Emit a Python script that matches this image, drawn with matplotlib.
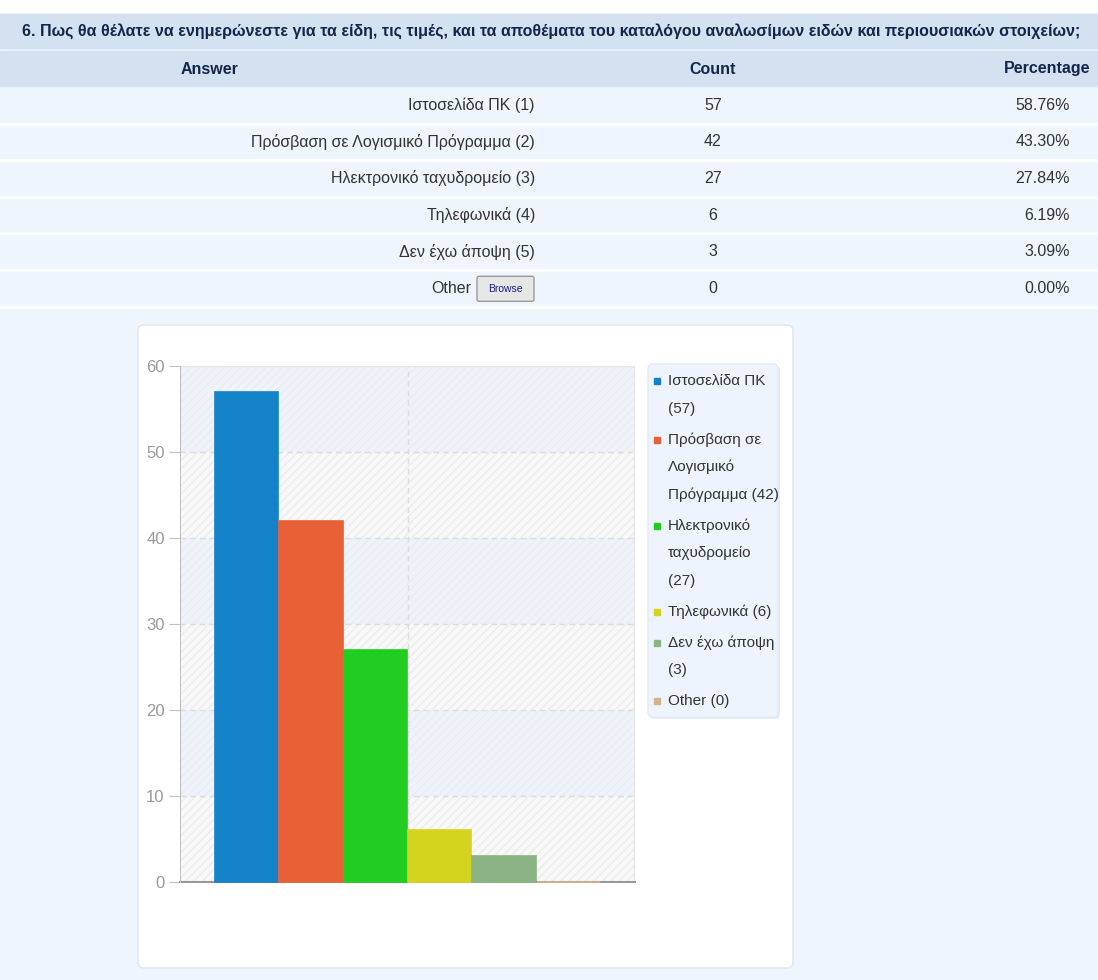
import textwrap
import matplotlib
matplotlib.use("Agg")
import matplotlib.pyplot as plt
from matplotlib.patches import Rectangle, FancyBboxPatch

plt.rcParams['font.family'] = ['Liberation Sans', 'DejaVu Sans']

title = "6. Πως θα θέλατε να ενημερώνεστε για τα είδη, τις τιμές, και τα αποθέματα του καταλόγου αναλωσίμων ειδών και περιουσιακών στοιχείων;"
answers = ["Ιστοσελίδα ΠΚ", "Πρόσβαση σε Λογισμικό Πρόγραμμα", "Ηλεκτρονικό ταχυδρομείο",
           "Τηλεφωνικά", "Δεν έχω άποψη", "Other"]
counts = [57, 42, 27, 6, 3, 0]
percentages = [58.76, 43.30, 27.84, 6.19, 3.09, 0.00]
bar_colors = ["#1482c8", "#e86035", "#22cd22", "#d4d41e", "#8bb383", "#d2b48c"]

W, H = 1098, 980
fig = plt.figure(figsize=(W / 100, H / 100), dpi=100)
fig.patch.set_facecolor("#eef5fd")

# page layer in pixel coordinates
bg = fig.add_axes([0, 0, 1, 1])
bg.set_xlim(0, W)
bg.set_ylim(H, 0)
bg.axis("off")

bg.add_patch(Rectangle((0, 0), W, 12, color="white", zorder=0))
bg.add_patch(Rectangle((0, 14), W, 34, color="#d3e1f1", zorder=1))
t = bg.text(22, 31, title, fontsize=11.5, fontweight="bold", color="#13254a", va="center", ha="left")

# shrink the title until it fits the bar
renderer = fig.canvas.get_renderer()
width = t.get_window_extent(renderer).width
if width > 1066:
    t.set_fontsize(11.5 * 1066 / width)

bg.add_patch(Rectangle((0, 51), W, 35, color="#d3e1f1", zorder=1))
bg.text(210, 69, "Answer", fontsize=11.5, fontweight="bold", color="#13254a", ha="center", va="center")
bg.text(713, 69, "Count", fontsize=11.5, fontweight="bold", color="#13254a", ha="center", va="center")
bg.text(1090, 69, "Percentage", fontsize=11.5, fontweight="bold", color="#13254a", ha="right", va="center")

row_top, row_h = 88, 36.6
for i, (a, c, p) in enumerate(zip(answers, counts, percentages)):
    y0 = row_top + i * row_h
    bg.add_patch(Rectangle((0, y0), W, row_h - 2, color="#eef5fd", zorder=1))
    bg.plot([0, W], [y0 + row_h - 1, y0 + row_h - 1], color="white", lw=2, zorder=2)
    yc = y0 + row_h / 2 - 1
    if a == "Other":
        bg.text(471, yc, a, fontsize=11.5, color="#333333", ha="right", va="center")
        bg.add_patch(FancyBboxPatch((477, yc - 12), 57, 25, boxstyle="round,pad=0,rounding_size=2",
                                    facecolor="#e6e6e6", edgecolor="#999999", lw=1, zorder=3))
        bg.text(505.5, yc + 1, "Browse", fontsize=7.5, color="#1a1a8c", ha="center", va="center", zorder=4)
    else:
        bg.text(535, yc, f"{a} ({i + 1})", fontsize=11.5, color="#333333", ha="right", va="center")
    bg.text(713, yc, f"{c}", fontsize=11.5, color="#333333", ha="center", va="center")
    bg.text(1070, yc, f"{p:.2f}%", fontsize=11.5, color="#333333", ha="right", va="center")

# chart panel
bg.add_patch(FancyBboxPatch((138, 325), 655, 643, boxstyle="round,pad=0,rounding_size=6",
                            facecolor="white", edgecolor="#dde5ee", lw=1, zorder=1))

ax = fig.add_axes([180 / W, 1 - 882 / H, (635 - 180) / W, (882 - 366) / H])
ax.set_xlim(-1.03, 6.03)
ax.set_ylim(0, 60)
ax.set_facecolor("none")

# alternating bands behind the bars
for k in range(6):
    band = "#eef2fa" if k % 2 == 1 else "#f8f8f8"
    ax.axhspan(k * 10, (k + 1) * 10, color=band, zorder=0, lw=0)
    ax.axhspan(k * 10, (k + 1) * 10, facecolor="none", edgecolor="#ececf0", hatch="////", lw=0, zorder=0.5)
for v in range(10, 60, 10):
    ax.axhline(v, color="#dcdcdc", ls=(0, (4, 3)), lw=1, zorder=1)
ax.axhline(60, color="#e4e4e4", lw=1, zorder=1)
ax.axvline(2.5, color="#dcdcdc", ls=(0, (4, 3)), lw=1, zorder=1)
ax.axvline(6.03, color="#e4e4e4", lw=1.5, zorder=1)

x = list(range(len(counts)))
ax.bar(x, counts, width=0.985, color=bar_colors, edgecolor=bar_colors, lw=1.2, zorder=3, clip_on=False)

for s in ["top", "right"]:
    ax.spines[s].set_visible(False)
ax.spines["left"].set_color("#c0c0c0")
ax.spines["bottom"].set_color("#999999")
ax.spines["bottom"].set_linewidth(1.5)
ax.spines["bottom"].set_zorder(2)
ax.set_xticks([])
ax.set_yticks(range(0, 61, 10))
ax.tick_params(axis="y", colors="#c0c0c0", length=8, labelcolor="#999999", labelsize=12, pad=3)

# legend box drawn by hand so the marker sits on the first line of each entry
bg.add_patch(FancyBboxPatch((650, 366), 130, 353, boxstyle="round,pad=0,rounding_size=5",
                            facecolor="#e6ebf1", edgecolor="none", zorder=2))
bg.add_patch(FancyBboxPatch((648, 364), 130, 353, boxstyle="round,pad=0,rounding_size=5",
                            facecolor="#edf4fd", edgecolor="#e2eaf4", lw=1, zorder=3))
ly = 381
for a, c, col in zip(answers, counts, bar_colors):
    lines = textwrap.wrap(f"{a} ({c})", 14)
    bg.add_patch(Rectangle((654, ly - 3), 6, 6, color=col, zorder=4))
    for k, line in enumerate(lines):
        bg.text(668, ly + k * 27.5, line, fontsize=11, color="#333333", ha="left", va="center", zorder=4)
    ly += (len(lines) - 1) * 27.5 + 31

fig.savefig("out.png", dpi=100, facecolor=fig.get_facecolor())
